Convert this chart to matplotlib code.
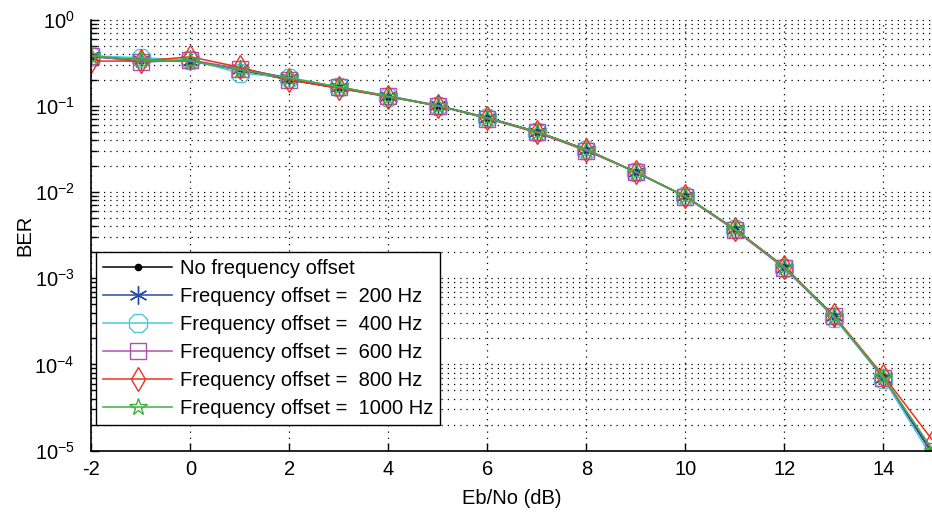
import matplotlib
matplotlib.use("Agg")
import matplotlib.pyplot as plt
from matplotlib.ticker import LogLocator, NullFormatter, FixedLocator

plt.rcParams['font.family'] = ['Liberation Sans', 'DejaVu Sans']
plt.rcParams['mathtext.fontset'] = 'custom'
plt.rcParams['mathtext.rm'] = 'Liberation Sans'
plt.rcParams['axes.unicode_minus'] = False

ebno = [-2, -1, 0, 1, 2, 3, 4, 5, 6, 7, 8, 9, 10, 11, 12, 13, 14, 15]

ber_none = [0.37, 0.34, 0.33, 0.26, 0.20, 0.16, 0.128, 0.100, 0.072, 0.050,
            0.031, 0.017, 0.0089, 0.0037, 0.00134, 0.00036, 7.2e-5, 9e-6]
ber_200 = [0.38, 0.34, 0.33, 0.27, 0.21, 0.165, 0.130, 0.101, 0.073, 0.050,
           0.031, 0.017, 0.0089, 0.0037, 0.00133, 0.00036, 7.0e-5, 9e-6]
ber_400 = [0.38, 0.36, 0.34, 0.24, 0.21, 0.165, 0.127, 0.100, 0.072, 0.049,
           0.031, 0.017, 0.0089, 0.0037, 0.00130, 0.00035, 6.8e-5, 8e-6]
ber_600 = [0.38, 0.32, 0.34, 0.27, 0.20, 0.165, 0.129, 0.100, 0.071, 0.049,
           0.030, 0.017, 0.0088, 0.0036, 0.00131, 0.00036, 7.0e-5, 1.0e-5]
ber_800 = [0.33, 0.33, 0.37, 0.28, 0.20, 0.160, 0.127, 0.100, 0.072, 0.049,
           0.031, 0.017, 0.0089, 0.0037, 0.00136, 0.00037, 7.4e-5, 1.3e-5]
ber_1000 = [0.38, 0.34, 0.33, 0.26, 0.21, 0.165, 0.128, 0.100, 0.072, 0.050,
            0.031, 0.017, 0.0089, 0.0037, 0.00134, 0.00036, 7.2e-5, 1.0e-5]

labels = ['No frequency offset',
          'Frequency offset =  200 Hz',
          'Frequency offset =  400 Hz',
          'Frequency offset =  600 Hz',
          'Frequency offset =  800 Hz',
          'Frequency offset =  1000 Hz']

x_ticks = [-2, 0, 2, 4, 6, 8, 10, 12, 14]

# (values, colour, marker, marker size, filled)
series = [
    (ber_none, '#000000', 'o', 4.5, True),
    (ber_200, '#2a4aa8', (6, 2, 0), 13, True),
    (ber_400, '#4cc8d8', '8', 14, False),
    (ber_600, '#b050b0', 's', 12, False),
    (ber_800, '#f03020', 'd', 12.5, False),
    (ber_1000, '#40b040', '*', 13, False),
]

fig = plt.figure(figsize=(9.32, 5.15), dpi=100)
ax = fig.add_axes([0.098, 0.125, 0.903, 0.837])

for (vals, col, mk, ms, filled), lab in zip(series, labels):
    ax.plot(ebno, vals, color=col, marker=mk, markersize=ms, lw=1.1,
            markerfacecolor=col if filled else 'none', markeredgewidth=1.0,
            label=lab)

ax.set_yscale('log')
ax.set_ylim(1e-5, 1)
ax.set_xlim(-2, 15)
ax.xaxis.set_major_locator(FixedLocator(x_ticks))
ax.yaxis.set_major_locator(LogLocator(base=10, numticks=10))
ax.yaxis.set_minor_locator(LogLocator(base=10, subs=range(2, 10), numticks=20))
ax.yaxis.set_minor_formatter(NullFormatter())

ax.grid(True, which='major', axis='x', linestyle=(0, (1, 4)), color='black', lw=0.9)
ax.grid(True, which='both', axis='y', linestyle=(0, (1, 4)), color='black', lw=0.9)

ax.tick_params(which='both', direction='in', labelsize=14.5, top=False, right=False)
ax.tick_params(which='major', length=6, width=1)
ax.tick_params(axis='x', which='major', pad=7)
ax.tick_params(axis='y', which='major', pad=12)
ax.tick_params(which='minor', length=4, width=1)
ax.spines['top'].set_visible(False)
ax.spines['right'].set_visible(False)
for s in ('left', 'bottom'):
    ax.spines[s].set_linewidth(1.2)

ax.set_xlabel('Eb/No (dB)', fontsize=14.5, labelpad=7)
ax.set_ylabel('BER', fontsize=14.5)
ax.yaxis.set_label_coords(-0.068, 0.5)

leg = ax.legend(loc='lower left', bbox_to_anchor=(0.006, 0.06), fontsize=14.5,
                handlelength=3.4, frameon=True, fancybox=False, borderpad=0.35,
                borderaxespad=0, labelspacing=0.44, handletextpad=0.4)
leg.get_frame().set_edgecolor('black')
leg.get_frame().set_linewidth(1.0)
leg.get_frame().set_alpha(1)

fig.savefig('out.png', dpi=100)
